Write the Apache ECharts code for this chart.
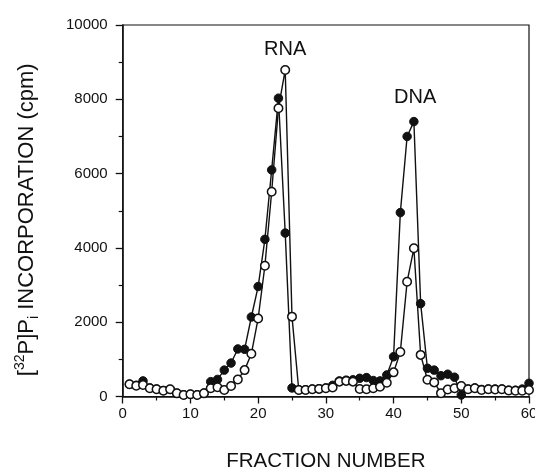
<!DOCTYPE html>
<html>
<head>
<meta charset="utf-8">
<script src="https://cdn.jsdelivr.net/npm/echarts@6/dist/echarts.min.js"></script>
<style>html,body{margin:0;padding:0;background:#fff;}#c{width:535px;height:468px;}</style>
</head>
<body>
<div id="c"></div>
<script>
// Fraction numbers
const fractions = [];
for (let i = 1; i <= 60; i++) fractions.push(i);
// Filled circles (●)
const filledValues = [330,300,420,230,200,160,190,90,45,60,45,90,400,460,710,900,1280,1270,2140,2960,4230,6100,8030,4400,230,180,180,200,210,230,300,420,440,450,490,510,430,420,580,1070,4950,7000,7400,2500,760,710,560,600,520,40,200,230,190,200,200,200,170,170,200,355];
// Open circles (○)
const openValues = [330,290,310,220,195,155,195,85,40,60,40,85,220,250,175,285,460,710,1150,2100,3520,5510,7760,8790,2150,175,175,195,205,220,240,400,420,400,200,195,220,265,370,650,1200,3090,3990,1120,450,380,90,190,220,280,195,220,175,195,190,195,160,155,155,175];
// Peak annotations
const peakLabels = [
  {name: 'RNA', coord: [24, 9350]},
  {name: 'DNA', coord: [43.2, 8040]}
];
const xTicks = [0,10,20,30,40,50,60];
const yTicks = [0,2000,4000,6000,8000,10000];

const pair = (vals) => fractions.map((f, i) => [f, vals[i]]);
const FONT = 'Liberation Sans, Arial, Helvetica, sans-serif';
const chart = echarts.init(document.getElementById('c'), null, {renderer: 'canvas'});
chart.setOption({
  animation: false,
  backgroundColor: '#fff',
  grid: {left: 122.7, right: 6, top: 25, bottom: 71.5, containLabel: false, outerBoundsMode: 'none',
    show: true, borderColor: '#111', borderWidth: 1.2, backgroundColor: 'transparent'},
  xAxis: {
    type: 'value', min: xTicks[0], max: xTicks[xTicks.length-1], interval: 10,
    name: 'FRACTION NUMBER', nameLocation: 'middle', nameGap: 54,
    nameTextStyle: {fontFamily: FONT, fontSize: 20.5, color: '#111'},
    axisLine: {show: true, onZero: false, lineStyle: {color: '#111', width: 1.5}},
    axisTick: {show: true, inside: false, length: 7, lineStyle: {color: '#111', width: 1.3}},
    minorTick: {show: true, splitNumber: 2, length: 4, lineStyle: {color: '#111', width: 1.2}},
    axisLabel: {fontFamily: FONT, fontSize: 15, color: '#111', margin: 10, formatter: v => String(v)},
    splitLine: {show: false}
  },
  yAxis: {
    type: 'value', min: yTicks[0], max: yTicks[yTicks.length-1], interval: 2000,
    name: '[{sup|32}P]P{sub|i} INCORPORATION (cpm)', nameLocation: 'middle', nameGap: 82,
    nameTextStyle: {fontFamily: FONT, fontSize: 22, color: '#111', lineHeight: 28, padding: [0, 18, 0, 0],
      rich: {
        sup: {fontFamily: FONT, fontSize: 14, lineHeight: 15, verticalAlign: 'top', color: '#111'},
        sub: {fontFamily: FONT, fontSize: 14, lineHeight: 15, verticalAlign: 'bottom', color: '#111'}
      }},
    axisLine: {show: true, onZero: false, lineStyle: {color: '#111', width: 1.5}},
    axisTick: {show: true, inside: false, length: 7, lineStyle: {color: '#111', width: 1.3}},
    minorTick: {show: true, splitNumber: 2, length: 4, lineStyle: {color: '#111', width: 1.2}},
    axisLabel: {fontFamily: FONT, fontSize: 15, color: '#111', margin: 15, formatter: v => String(v)},
    splitLine: {show: false}
  },
  series: [
    {
      type: 'line', data: pair(filledValues), clip: false,
      symbol: 'circle', symbolSize: 8.5, showAllSymbol: true,
      lineStyle: {color: '#111', width: 1.4},
      itemStyle: {color: '#111', borderColor: '#111', borderWidth: 1},
      markPoint: {
        symbol: 'circle', symbolSize: 0,
        label: {show: true, formatter: '{b}', fontFamily: FONT, fontSize: 20, color: '#111', position: 'inside'},
        data: peakLabels.map(p => ({name: p.name, coord: p.coord}))
      },
      z: 2
    },
    {
      type: 'line', data: pair(openValues), clip: false,
      symbol: 'circle', symbolSize: 8.5, showAllSymbol: true,
      lineStyle: {color: '#111', width: 1.4},
      itemStyle: {color: '#fff', borderColor: '#111', borderWidth: 1.5},
      z: 3
    }
  ]
});
</script>
</body>
</html>
